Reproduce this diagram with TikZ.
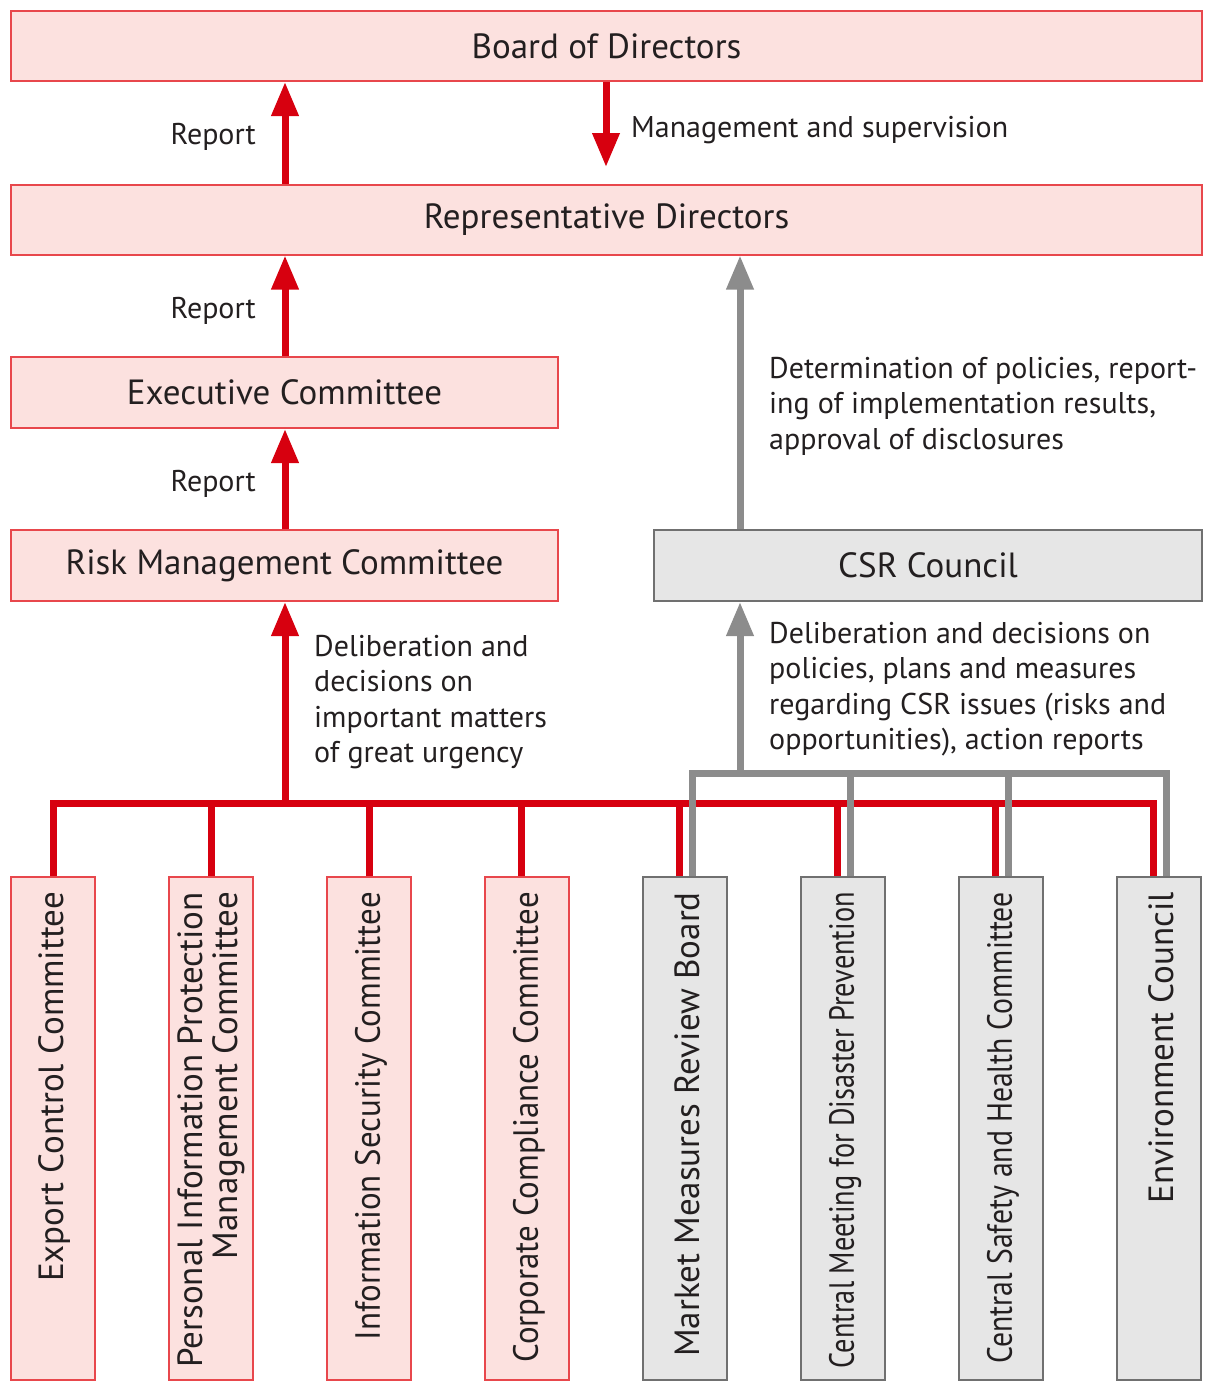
\documentclass[tikz,border=0pt]{standalone}
\usepackage{fontspec}
\setmainfont{PT Sans}
\usetikzlibrary{arrows.meta,calc}
\definecolor{pinkfill}{HTML}{FCE1DF}
\definecolor{pinkdraw}{HTML}{E8474C}
\definecolor{arrred}{HTML}{D7000F}
\definecolor{grayfill}{HTML}{E6E6E6}
\definecolor{graydraw}{HTML}{707070}
\definecolor{arrgray}{HTML}{8C8C8C}
\definecolor{txt}{HTML}{231F20}
\tikzset{
  pinkbox/.style={draw=pinkdraw,fill=pinkfill,line width=2pt,inner sep=0pt,text=txt,font=\fontsize{35}{40}\selectfont},
  graybox/.style={draw=graydraw,fill=grayfill,line width=2pt,inner sep=0pt,text=txt,font=\fontsize{35}{40}\selectfont},
  vtext/.style={rotate=90,anchor=east,align=right,inner sep=0pt,text=txt,font=\fontsize{35}{35}\selectfont},
  lbl/.style={inner sep=0pt,text=txt,font=\fontsize{30}{35.5}\selectfont},
  redarrow/.style={draw=arrred,line width=7pt,-{Triangle[length=34pt,width=26pt]}},
  grayarrow/.style={draw=arrgray,line width=7pt,-{Triangle[length=34pt,width=26pt]}},
  redline/.style={draw=arrred,line width=7pt},
  grayline/.style={draw=arrgray,line width=7pt},
}
\begin{document}
\begin{tikzpicture}[x=1pt,y=-1pt]
\useasboundingbox (0,0) rectangle (1208,1382);
% main boxes
\node[pinkbox,minimum width=1191pt,minimum height=70pt] (board) at (606.5,46) {Board of Directors};
\node[pinkbox,minimum width=1191pt,minimum height=70pt] (rep) at (606.5,219.5) {Representative Directors};
\node[pinkbox,minimum width=547pt,minimum height=71pt] (exec) at (284.5,392.5) {Executive Committee};
\node[pinkbox,minimum width=547pt,minimum height=71pt] (risk) at (284.5,565.5) {Risk Management Committee};
\node[graybox,minimum width=548pt,minimum height=71pt] (csr) at (928,565.5) {CSR Council};
% bottom boxes
\foreach \i/\x/\s in {1/53/pinkbox,2/211/pinkbox,3/369/pinkbox,4/527/pinkbox,5/685/graybox,6/843/graybox,7/1001/graybox,8/1159/graybox}{
  \node[\s,minimum width=84pt,minimum height=503pt] (b\i) at (\x,1128.5) {};
}
\node[vtext] (t1) at ([yshift=-16pt,xshift=2pt]b1.north) {Export Control Committee};
\node[vtext] (t2) at ([yshift=-16pt]b2.north) {Personal Information Protection\\Management Committee};
\node[vtext,xscale=0.94] (t3) at ([yshift=-16pt,xshift=2pt]b3.north) {Information Security Committee};
\node[vtext,xscale=0.94] (t4) at ([yshift=-16pt,xshift=2pt]b4.north) {Corporate Compliance Committee};
\node[vtext] (t5) at ([yshift=-16pt,xshift=2pt]b5.north) {Market Measures Review Board};
\node[vtext,xscale=0.81] (t6) at ([yshift=-16pt,xshift=2pt]b6.north) {Central Meeting for Disaster Prevention};
\node[vtext,xscale=0.85] (t7) at ([yshift=-16pt,xshift=2pt]b7.north) {Central Safety and Health Committee};
\node[vtext] (t8) at ([yshift=-16pt,xshift=2pt]b8.north) {Environment Council};
% coordinates
\coordinate (rbus) at (285,803);
\coordinate (gbus) at (740,773);
\coordinate (mtip) at (606,167);
% red connectors
\draw[redline] (b1.north) |- (rbus) -| ([xshift=-6pt]b8.north);
\foreach \i in {2,3}{\draw[redline] (b\i.north) -- (b\i.north |- rbus);}
\foreach \i in {4,5,6,7}{\draw[redline] ([xshift=-6pt]b\i.north) -- ([xshift=-6pt]b\i.north |- rbus);}
\draw[redarrow] (rbus) -- (rbus |- risk.south);
\draw[redarrow] (risk.north -| rbus) -- (exec.south -| rbus);
\draw[redarrow] (exec.north -| rbus) -- (rep.south -| rbus);
\draw[redarrow] (rep.north -| rbus) -- (board.south -| rbus);
\draw[redarrow] (board.south -| mtip) -- (mtip);
% gray connectors
\draw[grayline] ([xshift=7pt]b5.north) |- (gbus) -| ([xshift=7pt]b8.north);
\foreach \i in {6,7}{\draw[grayline] ([xshift=7pt]b\i.north) -- ([xshift=7pt]b\i.north |- gbus);}
\draw[grayarrow] (gbus) -- (gbus |- csr.south);
\draw[grayarrow] (csr.north -| gbus) -- (rep.south -| gbus);
% labels
\node[lbl,anchor=east] (l1) at (256,137) {Report};
\node[lbl,anchor=east] (l2) at (256,311) {Report};
\node[lbl,anchor=east] (l3) at (256,484) {Report};
\node[lbl,anchor=west] (l4) at (631,130) {Management and supervision};
\node[lbl,anchor=north west,align=left] (l5) at (769,357) {Determination of policies, report-\\ing of implementation results,\\approval of disclosures};
\node[lbl,anchor=north west,align=left] (l6) at (314,635) {Deliberation and\\decisions on\\important matters\\of great urgency};
\node[lbl,anchor=north west,align=left] (l7) at (769,622) {Deliberation and decisions on\\policies, plans and measures\\regarding CSR issues (risks and\\opportunities), action reports};
\end{tikzpicture}
\end{document}
